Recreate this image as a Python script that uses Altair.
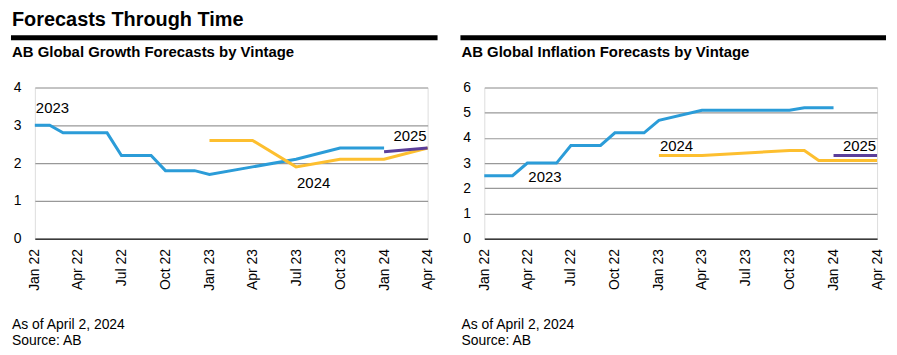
import altair as alt
import pandas as pd

FONT = "Liberation Sans"

# ---------------- data ----------------
vintages = ["2023", "2024", "2025"]
vintage_colors = ["#2B9CD8", "#FDBF2F", "#5B3E9A"]

# Growth forecasts (left panel)
growth_2023_dates = ["2022-01-01", "2022-02-01", "2022-03-01", "2022-04-01", "2022-05-01",
                     "2022-06-01", "2022-07-01", "2022-08-01", "2022-09-01", "2022-10-01",
                     "2022-11-01", "2022-12-01", "2023-01-01", "2023-04-01", "2023-07-01",
                     "2023-10-01", "2023-11-01", "2023-12-01", "2024-01-01"]
growth_2023 = [3.0, 3.0, 2.8, 2.8, 2.8, 2.8, 2.2, 2.2, 2.2, 1.8, 1.8, 1.8, 1.7, 1.9, 2.1,
               2.4, 2.4, 2.4, 2.4]
growth_2024_dates = ["2023-01-01", "2023-02-01", "2023-03-01", "2023-04-01", "2023-07-01",
                     "2023-10-01", "2023-11-01", "2023-12-01", "2024-01-01", "2024-04-01"]
growth_2024 = [2.6, 2.6, 2.6, 2.6, 1.9, 2.1, 2.1, 2.1, 2.1, 2.4]
growth_2025_dates = ["2024-01-01", "2024-04-01"]
growth_2025 = [2.3, 2.4]

# Inflation forecasts (right panel)
infl_2023_dates = ["2022-01-01", "2022-02-01", "2022-03-01", "2022-04-01", "2022-05-01",
                   "2022-06-01", "2022-07-01", "2022-08-01", "2022-09-01", "2022-10-01",
                   "2022-11-01", "2022-12-01", "2023-01-01", "2023-04-01", "2023-10-01",
                   "2023-11-01", "2023-12-01", "2024-01-01"]
infl_2023 = [2.5, 2.5, 2.5, 3.0, 3.0, 3.0, 3.7, 3.7, 3.7, 4.2, 4.2, 4.2, 4.7, 5.1, 5.1,
             5.2, 5.2, 5.2]
infl_2024_dates = ["2023-01-01", "2023-04-01", "2023-10-01", "2023-11-01", "2023-12-01",
                   "2024-01-01", "2024-04-01"]
infl_2024 = [3.3, 3.3, 3.5, 3.5, 3.1, 3.1, 3.1]
infl_2025_dates = ["2024-01-01", "2024-04-01"]
infl_2025 = [3.3, 3.3]

# Series labels: (text, date, value)
growth_labels_left = [("2023", "2022-01-01", 3.45), ("2024", "2023-07-01", 1.47)]
growth_labels_right = [("2025", "2024-04-01", 2.71)]
infl_labels_left = [("2023", "2022-04-01", 2.45), ("2024", "2023-01-01", 3.67)]
infl_labels_right = [("2025", "2024-04-01", 3.67)]

tick_dates = [(2022, 1), (2022, 4), (2022, 7), (2022, 10), (2023, 1), (2023, 4),
              (2023, 7), (2023, 10), (2024, 1), (2024, 4)]

main_title = "Forecasts Through Time"
growth_title = "AB Global Growth Forecasts by Vintage"
infl_title = "AB Global Inflation Forecasts by Vintage"
footer_1 = "As of April 2, 2024"
footer_2 = "Source: AB"


def frame(series):
    rows = []
    for vintage, dates, values in series:
        for d, v in zip(dates, values):
            rows.append({"date": d, "value": v, "vintage": vintage})
    return pd.DataFrame(rows)


def label_frame(items):
    return pd.DataFrame([{"label": t, "date": d, "value": v} for t, d, v in items])


W, H = 395, 152


def panel(df, ymax, subtitle, left_labels, right_labels, show_main, rule_end):
    x = alt.X(
        "date:T",
        scale=alt.Scale(
            type="utc",
            domain=[alt.DateTime(year=2022, month=1, date=1, utc=True),
                    alt.DateTime(year=2024, month=4, date=1, utc=True)],
            nice=False,
        ),
        axis=alt.Axis(
            values=[alt.DateTime(year=y, month=m, date=1, utc=True) for y, m in tick_dates],
            labelExpr="utcFormat(datum.value, '%b %y')", labelAngle=270, labelFontSize=14,
            labelFont=FONT, labelColor="black", labelPadding=10, ticks=False, tickSize=0,
            domain=True, domainColor="black", domainWidth=1, grid=False, title=None,
            zindex=1, labelOverlap=False,
        ),
    )
    y = alt.Y(
        "value:Q",
        scale=alt.Scale(domain=[0, ymax], nice=False),
        axis=alt.Axis(
            values=list(range(0, ymax + 1)), labelFontSize=14, labelFont=FONT,
            labelColor="black", labelPadding=14, ticks=False, tickSize=0, domain=False,
            grid=True, gridColor="#999999", gridWidth=1.2, title=None, labelOverlap=False,
        ),
    )
    lines = alt.Chart(df).mark_line(strokeWidth=3).encode(
        x=x, y=y,
        color=alt.Color("vintage:N", scale=alt.Scale(domain=vintages, range=vintage_colors),
                        legend=None),
    )
    lab_l = alt.Chart(label_frame(left_labels)).mark_text(
        align="left", baseline="middle", fontSize=15, font=FONT, color="black", dx=1
    ).encode(x=x, y=y, text="label:N")
    lab_r = alt.Chart(label_frame(right_labels)).mark_text(
        align="right", baseline="middle", fontSize=15, font=FONT, color="black", dx=-1
    ).encode(x=x, y=y, text="label:N")

    mt = alt.Chart(pd.DataFrame({"t": [main_title]})).mark_text(
        align="left", baseline="alphabetic", fontSize=20, fontWeight="bold", font=FONT,
        color="black", opacity=1 if show_main else 0,
    ).encode(x=alt.value(-23), y=alt.value(-62), text="t:N")
    rule = alt.Chart(pd.DataFrame({"a": [0]})).mark_rule(strokeWidth=5, color="black").encode(
        x=alt.value(-24), x2=alt.value(rule_end), y=alt.value(-50)
    )
    st = alt.Chart(pd.DataFrame({"t": [subtitle]})).mark_text(
        align="left", baseline="alphabetic", fontSize=15, fontWeight="bold", font=FONT,
        color="black",
    ).encode(x=alt.value(-23), y=alt.value(-30.5), text="t:N")
    f1 = alt.Chart(pd.DataFrame({"t": [footer_1]})).mark_text(
        align="left", baseline="alphabetic", fontSize=14, font=FONT, color="black",
    ).encode(x=alt.value(-23), y=alt.value(243), text="t:N")
    f2 = alt.Chart(pd.DataFrame({"t": [footer_2]})).mark_text(
        align="left", baseline="alphabetic", fontSize=14, font=FONT, color="black",
    ).encode(x=alt.value(-23), y=alt.value(259), text="t:N")

    return alt.layer(lines, lab_l, lab_r, mt, rule, st, f1, f2).properties(width=W, height=H)


growth_df = frame([("2023", growth_2023_dates, growth_2023),
                   ("2024", growth_2024_dates, growth_2024),
                   ("2025", growth_2025_dates, growth_2025)])
infl_df = frame([("2023", infl_2023_dates, infl_2023),
                 ("2024", infl_2024_dates, infl_2024),
                 ("2025", infl_2025_dates, infl_2025)])

left = panel(growth_df, 4, growth_title, growth_labels_left, growth_labels_right, True, 405)
right = panel(infl_df, 6, infl_title, infl_labels_left, infl_labels_right, False, 404)

chart = alt.hconcat(left, right, spacing=17).properties(padding=0).configure_view(
    stroke=None
).configure(background="white")

chart.save("out.html", embed_options={"renderer": "svg", "actions": False})
